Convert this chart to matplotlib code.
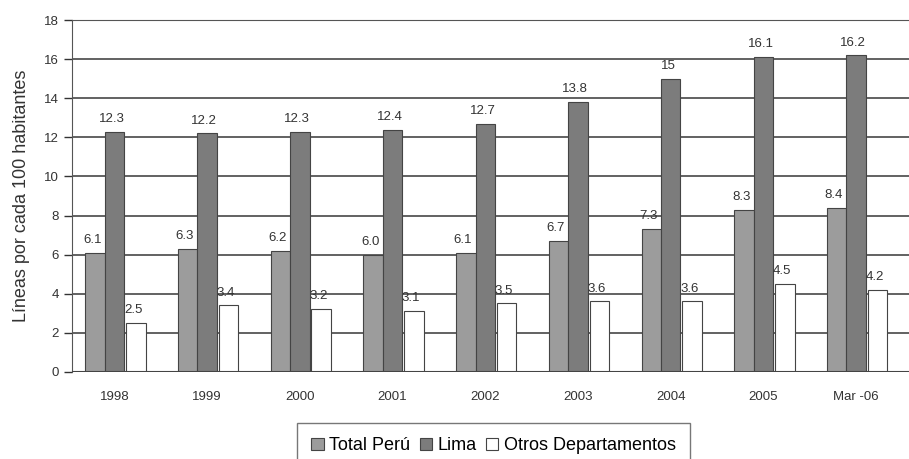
import numpy as np
import matplotlib
matplotlib.use("Agg")
import matplotlib.pyplot as plt

plt.rcParams["font.family"] = ["Liberation Sans", "DejaVu Sans"]

years = ["1998", "1999", "2000", "2001", "2002", "2003", "2004", "2005", "Mar -06"]
total_peru = [6.1, 6.3, 6.2, 6.0, 6.1, 6.7, 7.3, 8.3, 8.4]
lima = [12.3, 12.2, 12.3, 12.4, 12.7, 13.8, 15, 16.1, 16.2]
otros = [2.5, 3.4, 3.2, 3.1, 3.5, 3.6, 3.6, 4.5, 4.2]

fig = plt.figure(figsize=(9.09, 4.59), dpi=100)
ax = fig.add_axes([0.079, 0.19, 0.921, 0.766])

x = np.arange(len(years))
w = 0.21
series = [
    (total_peru, -0.21, "#9c9c9c", "Total Perú"),
    (lima, 0.0, "#7c7c7c", "Lima"),
    (otros, 0.23, "#ffffff", "Otros Departamentos"),
]
for vals, off, col, lab in series:
    bars = ax.bar(x + off, vals, w, color=col, edgecolor="#444444", linewidth=0.8,
                  label=lab, zorder=3)
    for b, v in zip(bars, vals):
        txt = f"{v:g}" if v != 6.0 else "6.0"
        ax.text(b.get_x() + b.get_width() / 2 - 0.03, v + 0.35, txt,
                ha="center", va="bottom", fontsize=9.5, color="#333333", zorder=4)

ax.set_ylim(0, 18)
ax.set_xlim(-0.46, 8.57)
ax.set_yticks(range(0, 19, 2))
ax.set_xticks(x)
ax.set_xticklabels(years, fontsize=9.5, color="#333333")
ax.tick_params(axis="y", labelsize=9.5, colors="#333333", length=6, width=1)
ax.tick_params(axis="x", length=0, pad=14)
ax.yaxis.grid(True, color="#555555", linewidth=1.3, zorder=0)
ax.set_axisbelow(True)
for s in ["right", "bottom"]:
    ax.spines[s].set_visible(False)
ax.spines["left"].set_color("#555555")
ax.spines["top"].set_color("#555555")
ax.axhline(0, color="#444444", linewidth=1.5, zorder=5)
ax.set_ylabel("Líneas por cada 100 habitantes", fontsize=13, color="#333333", labelpad=10)

fig.legend(loc="upper center", bbox_to_anchor=(0.543, 0.098), ncol=3, fontsize=13,
           frameon=True, fancybox=False, edgecolor="#555555", handlelength=0.7,
           handleheight=0.7, handletextpad=0.3, columnspacing=0.5, borderpad=0.8)

fig.savefig("out.png", dpi=100, facecolor="white")
